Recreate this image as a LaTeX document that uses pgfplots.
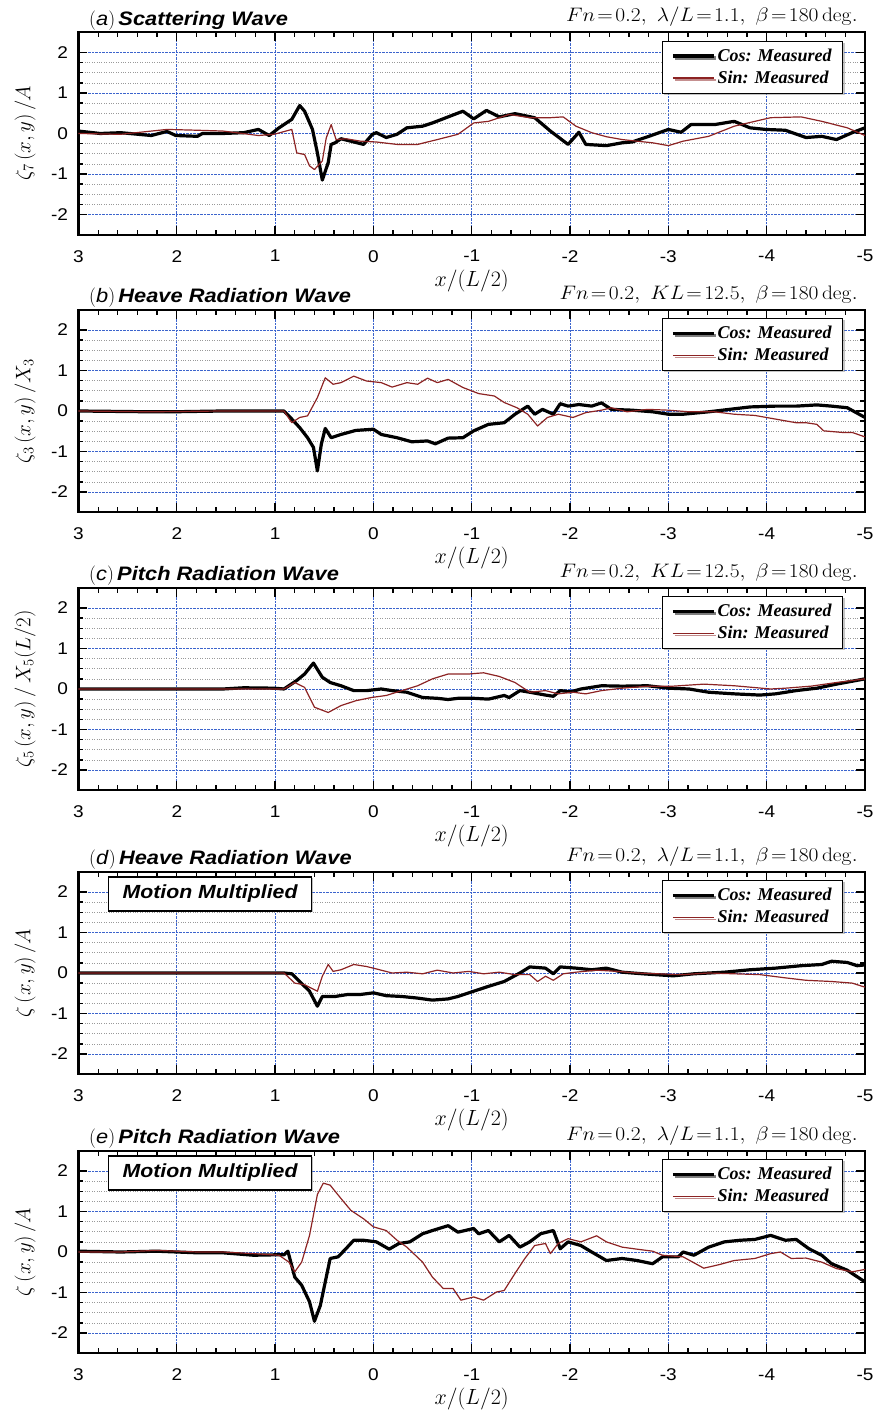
\RequirePackage{fix-cm}
\documentclass[border=0pt]{standalone}
\usepackage[no-math]{fontspec}
\setmainfont{Liberation Sans}[FakeStretch=1.12]
\newfontfamily\legfont{Liberation Serif}
\usepackage{graphicx}
\usepackage{pgfplots}
\pgfplotsset{compat=1.18}
\usetikzlibrary{shadows}
\definecolor{sinred}{RGB}{140,35,35}
\definecolor{gridblue}{RGB}{60,100,205}
\newcommand{\ttl}[2]{\fontsize{19.5}{22}\selectfont$($\textit{#1}$)$\,\textbf{\textit{#2}}}
\newcommand{\rtl}[1]{\scalebox{1.1}[1]{\fontsize{19.5}{22}\selectfont$#1$}}
\tikzset{
 mmbox/.style={draw=black, line width=1.1pt, fill=white, anchor=north west, minimum width=203pt, minimum height=34pt, inner sep=0pt, drop shadow={shadow xshift=1.5pt, shadow yshift=-1.5pt, fill=black!50}, font=\fontsize{19}{21}\selectfont\bfseries\itshape},
}
\pgfplotsset{
 panel/.style={
  scale only axis, width=786.5pt, height=202.5pt, anchor=south west, clip=false,
  xmin=-5, xmax=3, x dir=reverse, ymin=-2.5, ymax=2.5,
  xtick={-5,-4,...,3}, ytick={-2,-1,...,2},
  minor x tick num=4, minor y tick num=3,
  xmajorgrids=true, ymajorgrids=true, yminorgrids=true, xminorgrids=false,
  major grid style={densely dotted, gridblue, line width=0.7pt},
  minor grid style={dotted, black!40, line width=0.6pt},
  tick align=inside, major tick length=9pt, minor tick length=5pt,
  every tick/.style={black, line width=1.3pt},
  axis line style={black, line width=2.2pt},
  /pgf/number format/assume math mode=true,
  ticklabel style={font=\fontsize{17}{20}\selectfont},
  xticklabel style={yshift=-12pt},
  yticklabel style={xshift=-7pt},
  xlabel={$x/(L/2)$},
  xlabel style={at={(axis description cs:0.5,-0.227)}, anchor=center, font=\fontsize{22}{24}\selectfont},
  ylabel style={at={(axis description cs:-0.068,0.5)}, anchor=center, font=\fontsize{21}{24}\selectfont},
  legend style={at={(axis description cs:0.972,0.959)}, anchor=north east, draw=black, line width=0.8pt, fill=white, font=\legfont\bfseries\itshape\fontsize{18}{20}\selectfont, cells={anchor=west}, inner xsep=9pt, inner ysep=6pt, row sep=4pt, drop shadow={shadow xshift=2pt, shadow yshift=-2pt, fill=black!45}},
  legend image code/.code={\draw[#1] (0pt,0pt) -- (41pt,0pt);},
 },
 cosl/.style={draw=black, line width=3.2pt, line join=round},
 sinl/.style={draw=sinred, line width=1.2pt, line join=round},
}
\begin{document}
\begin{tikzpicture}
\useasboundingbox (0,0) rectangle (874pt,1416pt);
% ---------------- (a)
\begin{axis}[panel, at={(78.5pt,1181.25pt)}, ylabel={$\zeta_7\,(x,y)\,/A$}]
\addplot[cosl] coordinates {(3.00,0.06) (2.78,0.00) (2.57,0.02) (2.26,-0.05) (2.10,0.05) (2.01,-0.05) (1.79,-0.07) (1.74,0.00) (1.53,0.00) (1.32,0.02) (1.17,0.10) (1.06,-0.05) (0.96,0.14) (0.83,0.35) (0.75,0.69) (0.70,0.55) (0.62,0.10) (0.57,-0.48) (0.52,-1.15) (0.46,-0.72) (0.43,-0.27) (0.39,-0.23) (0.33,-0.13) (0.23,-0.19) (0.10,-0.27) (0.01,-0.02) (-0.03,0.02) (-0.13,-0.10) (-0.24,-0.02) (-0.34,0.14) (-0.50,0.18) (-0.60,0.26) (-0.76,0.41) (-0.91,0.55) (-1.02,0.36) (-1.15,0.57) (-1.28,0.41) (-1.44,0.49) (-1.64,0.39) (-1.80,0.06) (-1.98,-0.27) (-2.09,0.03) (-2.16,-0.27) (-2.37,-0.30) (-2.53,-0.23) (-2.63,-0.21) (-2.79,-0.08) (-3.00,0.10) (-3.13,0.03) (-3.23,0.22) (-3.47,0.22) (-3.67,0.30) (-3.83,0.14) (-3.99,0.10) (-4.19,0.08) (-4.40,-0.10) (-4.56,-0.07) (-4.71,-0.15) (-4.87,0.02) (-5.00,0.14)};
\addlegendentry{Cos: Measured}
\addplot[sinl] coordinates {(3.00,0.00) (2.57,-0.02) (2.10,0.10) (1.79,0.08) (1.53,0.06) (1.17,-0.05) (1.01,-0.02) (0.83,0.10) (0.78,-0.48) (0.70,-0.52) (0.65,-0.80) (0.60,-0.89) (0.52,-0.68) (0.48,-0.11) (0.43,0.22) (0.38,-0.15) (0.28,-0.13) (0.13,-0.19) (-0.03,-0.21) (-0.24,-0.27) (-0.45,-0.27) (-0.65,-0.15) (-0.86,-0.02) (-1.02,0.26) (-1.17,0.30) (-1.38,0.47) (-1.59,0.39) (-1.80,0.39) (-1.93,0.41) (-2.06,0.18) (-2.22,0.02) (-2.37,-0.08) (-2.53,-0.15) (-2.68,-0.19) (-2.84,-0.23) (-3.00,-0.30) (-3.15,-0.19) (-3.41,-0.07) (-3.67,0.18) (-3.88,0.30) (-4.04,0.39) (-4.35,0.41) (-4.56,0.30) (-4.82,0.14) (-5.00,-0.05)};
\addlegendentry{Sin: Measured}
\node[anchor=base west, inner sep=0pt] at (axis description cs:0.0134,1.035) {\ttl{a}{Scattering Wave}};
\node[anchor=base east, inner sep=0pt] at (axis description cs:0.991,1.052) {\rtl{Fn\!=\!0.2,\ \lambda/L\!=\!1.1,\ \beta\!=\!180\,\mathrm{deg.}}};
\end{axis}
% ---------------- (b)
\begin{axis}[panel, at={(78.5pt,903.75pt)}, ylabel={$\zeta_3\,(x,y)\,/X_3$}]
\addplot[cosl] coordinates {(3.00,0.00) (2.26,-0.02) (2.05,-0.02) (1.53,0.00) (1.01,0.00) (0.91,0.00) (0.83,-0.20) (0.75,-0.41) (0.67,-0.66) (0.61,-0.90) (0.57,-1.48) (0.53,-0.82) (0.49,-0.43) (0.43,-0.66) (0.33,-0.58) (0.18,-0.48) (0.00,-0.45) (-0.08,-0.58) (-0.24,-0.66) (-0.39,-0.76) (-0.55,-0.74) (-0.63,-0.81) (-0.76,-0.67) (-0.91,-0.66) (-1.02,-0.49) (-1.17,-0.33) (-1.33,-0.29) (-1.44,-0.08) (-1.57,0.12) (-1.64,-0.08) (-1.72,0.04) (-1.83,-0.08) (-1.90,0.18) (-1.98,0.12) (-2.09,0.16) (-2.22,0.12) (-2.32,0.20) (-2.42,0.04) (-2.63,0.02) (-2.84,-0.02) (-3.00,-0.08) (-3.15,-0.08) (-3.41,-0.02) (-3.62,0.04) (-3.83,0.10) (-4.09,0.12) (-4.30,0.12) (-4.51,0.15) (-4.66,0.12) (-4.82,0.08) (-5.00,-0.16)};
\addlegendentry{Cos: Measured}
\addplot[sinl] coordinates {(3.00,0.00) (2.26,-0.02) (1.53,0.00) (0.91,0.00) (0.83,-0.29) (0.75,-0.16) (0.67,-0.12) (0.57,0.33) (0.49,0.82) (0.41,0.66) (0.33,0.70) (0.20,0.86) (0.07,0.74) (-0.08,0.70) (-0.19,0.59) (-0.34,0.70) (-0.45,0.66) (-0.55,0.81) (-0.65,0.70) (-0.76,0.78) (-0.91,0.58) (-1.07,0.43) (-1.23,0.37) (-1.33,0.21) (-1.46,0.08) (-1.57,-0.08) (-1.67,-0.37) (-1.77,-0.16) (-1.88,-0.08) (-2.03,-0.16) (-2.16,-0.04) (-2.32,0.02) (-2.42,0.08) (-2.58,-0.02) (-2.79,0.04) (-3.00,0.02) (-3.21,-0.02) (-3.47,-0.02) (-3.67,-0.08) (-3.88,-0.11) (-4.09,-0.20) (-4.30,-0.29) (-4.40,-0.29) (-4.51,-0.33) (-4.58,-0.49) (-4.77,-0.53) (-4.87,-0.53) (-5.00,-0.64)};
\addlegendentry{Sin: Measured}
\node[anchor=base west, inner sep=0pt] at (axis description cs:0.0134,1.035) {\ttl{b}{Heave Radiation Wave}};
\node[anchor=base east, inner sep=0pt] at (axis description cs:0.991,1.052) {\rtl{Fn\!=\!0.2,\ KL\!=\!12.5,\ \beta\!=\!180\,\mathrm{deg.}}};
\end{axis}
% ---------------- (c)
\begin{axis}[panel, at={(78.5pt,625.75pt)}, ylabel={$\zeta_5\,(x,y)\,/\,X_5(L/2)$}]
\addplot[cosl] coordinates {(3.00,0.00) (1.53,0.00) (1.32,0.03) (1.01,0.02) (0.91,0.00) (0.86,0.08) (0.78,0.21) (0.70,0.37) (0.61,0.64) (0.52,0.29) (0.44,0.16) (0.33,0.08) (0.20,-0.04) (0.07,-0.04) (-0.08,0.00) (-0.19,-0.04) (-0.34,-0.08) (-0.50,-0.21) (-0.65,-0.23) (-0.76,-0.26) (-0.86,-0.23) (-1.02,-0.23) (-1.17,-0.25) (-1.33,-0.16) (-1.38,-0.21) (-1.49,-0.04) (-1.59,-0.08) (-1.75,-0.15) (-1.83,-0.18) (-1.90,-0.04) (-2.01,-0.07) (-2.11,0.00) (-2.32,0.08) (-2.53,0.07) (-2.79,0.08) (-3.00,0.02) (-3.21,0.00) (-3.41,-0.08) (-3.67,-0.12) (-3.93,-0.15) (-4.09,-0.12) (-4.30,-0.04) (-4.51,0.02) (-4.71,0.12) (-5.00,0.25)};
\addlegendentry{Cos: Measured}
\addplot[sinl] coordinates {(3.00,0.00) (1.01,0.00) (0.91,0.00) (0.80,0.16) (0.70,0.04) (0.60,-0.45) (0.46,-0.58) (0.33,-0.41) (0.18,-0.29) (0.02,-0.21) (-0.13,-0.16) (-0.29,-0.04) (-0.45,0.08) (-0.60,0.25) (-0.76,0.37) (-0.97,0.37) (-1.12,0.40) (-1.28,0.31) (-1.44,0.16) (-1.59,-0.08) (-1.75,-0.04) (-1.88,-0.12) (-2.03,-0.08) (-2.16,-0.12) (-2.32,-0.04) (-2.53,0.02) (-2.79,0.07) (-3.05,0.07) (-3.36,0.12) (-3.67,0.08) (-4.04,0.00) (-4.19,0.02) (-4.45,0.07) (-4.71,0.16) (-5.00,0.25)};
\addlegendentry{Sin: Measured}
\node[anchor=base west, inner sep=0pt] at (axis description cs:0.0134,1.035) {\ttl{c}{Pitch Radiation Wave}};
\node[anchor=base east, inner sep=0pt] at (axis description cs:0.991,1.052) {\rtl{Fn\!=\!0.2,\ KL\!=\!12.5,\ \beta\!=\!180\,\mathrm{deg.}}};
\end{axis}
% ---------------- (d)
\begin{axis}[panel, at={(78.5pt,341.75pt)}, ylabel={$\zeta\,(x,y)\,/A$}]
\addplot[cosl] coordinates {(3.00,0.00) (0.91,0.00) (0.83,-0.02) (0.75,-0.21) (0.65,-0.45) (0.57,-0.82) (0.52,-0.58) (0.39,-0.58) (0.26,-0.53) (0.13,-0.53) (0.00,-0.49) (-0.13,-0.56) (-0.29,-0.58) (-0.45,-0.62) (-0.60,-0.67) (-0.76,-0.64) (-0.86,-0.58) (-1.02,-0.45) (-1.17,-0.33) (-1.33,-0.21) (-1.49,0.00) (-1.59,0.15) (-1.75,0.12) (-1.83,-0.02) (-1.90,0.15) (-2.06,0.12) (-2.22,0.08) (-2.37,0.12) (-2.53,0.02) (-2.74,-0.02) (-3.05,-0.07) (-3.26,-0.02) (-3.57,0.02) (-3.83,0.08) (-4.09,0.12) (-4.35,0.18) (-4.56,0.21) (-4.66,0.29) (-4.82,0.26) (-4.92,0.18) (-5.00,0.20)};
\addlegendentry{Cos: Measured}
\addplot[sinl] coordinates {(3.00,0.00) (0.91,0.00) (0.80,-0.25) (0.70,-0.29) (0.57,-0.45) (0.52,-0.08) (0.46,0.21) (0.41,0.04) (0.33,0.08) (0.20,0.21) (0.07,0.16) (-0.03,0.10) (-0.19,0.00) (-0.34,0.02) (-0.50,-0.02) (-0.65,0.07) (-0.81,0.00) (-0.97,0.04) (-1.12,-0.02) (-1.28,0.02) (-1.44,-0.04) (-1.59,-0.04) (-1.67,-0.21) (-1.75,-0.08) (-1.83,-0.18) (-1.93,-0.02) (-2.06,0.02) (-2.27,0.07) (-2.48,0.04) (-2.68,0.00) (-2.89,-0.02) (-3.15,-0.04) (-3.41,0.00) (-3.67,-0.02) (-3.93,-0.04) (-4.19,-0.12) (-4.40,-0.18) (-4.66,-0.21) (-4.87,-0.25) (-5.00,-0.35)};
\addlegendentry{Sin: Measured}
\node[anchor=base west, inner sep=0pt] at (axis description cs:0.0134,1.035) {\ttl{d}{Heave Radiation Wave}};
\node[anchor=base east, inner sep=0pt] at (axis description cs:0.991,1.052) {\rtl{Fn\!=\!0.2,\ \lambda/L\!=\!1.1,\ \beta\!=\!180\,\mathrm{deg.}}};
\node[mmbox] at (axis description cs:0.0375,0.977) {Motion Multiplied};
\end{axis}
% ---------------- (e)
\begin{axis}[panel, at={(78.5pt,62.75pt)}, ylabel={$\zeta\,(x,y)\,/A$}]
\addplot[cosl] coordinates {(3.00,0.02) (2.57,0.00) (2.21,0.02) (1.79,-0.02) (1.53,-0.02) (1.22,-0.08) (1.01,-0.07) (0.91,-0.07) (0.87,0.02) (0.80,-0.62) (0.73,-0.82) (0.65,-1.23) (0.60,-1.71) (0.54,-1.32) (0.49,-0.74) (0.44,-0.16) (0.36,-0.12) (0.28,0.08) (0.20,0.29) (0.10,0.29) (-0.03,0.25) (-0.16,0.07) (-0.26,0.21) (-0.37,0.25) (-0.50,0.45) (-0.60,0.53) (-0.76,0.65) (-0.86,0.49) (-1.02,0.58) (-1.07,0.45) (-1.17,0.53) (-1.28,0.25) (-1.38,0.41) (-1.49,0.12) (-1.59,0.25) (-1.70,0.45) (-1.83,0.53) (-1.90,0.08) (-1.98,0.25) (-2.11,0.16) (-2.22,0.00) (-2.37,-0.21) (-2.53,-0.16) (-2.68,-0.21) (-2.84,-0.29) (-2.94,-0.12) (-3.10,-0.12) (-3.15,0.00) (-3.26,-0.08) (-3.41,0.12) (-3.57,0.25) (-3.73,0.29) (-3.88,0.31) (-4.04,0.41) (-4.19,0.29) (-4.30,0.31) (-4.43,0.08) (-4.56,-0.08) (-4.66,-0.29) (-4.82,-0.45) (-5.00,-0.74)};
\addlegendentry{Cos: Measured}
\addplot[sinl] coordinates {(3.00,0.00) (2.57,0.00) (2.21,0.04) (1.79,0.00) (1.53,0.00) (1.22,-0.04) (0.96,-0.08) (0.86,-0.25) (0.80,-0.49) (0.73,-0.25) (0.65,0.41) (0.57,1.42) (0.51,1.70) (0.44,1.65) (0.33,1.32) (0.23,1.03) (0.10,0.82) (0.00,0.62) (-0.13,0.53) (-0.24,0.29) (-0.34,0.12) (-0.50,-0.25) (-0.60,-0.62) (-0.71,-0.90) (-0.81,-0.90) (-0.89,-1.19) (-1.02,-1.11) (-1.12,-1.19) (-1.25,-0.99) (-1.33,-0.95) (-1.44,-0.53) (-1.54,-0.16) (-1.64,0.16) (-1.75,0.21) (-1.80,-0.04) (-1.88,0.21) (-1.98,0.33) (-2.11,0.25) (-2.27,0.40) (-2.37,0.25) (-2.53,0.12) (-2.68,0.07) (-2.84,0.02) (-2.94,-0.08) (-3.15,-0.12) (-3.36,-0.40) (-3.52,-0.31) (-3.67,-0.21) (-3.88,-0.16) (-4.04,-0.04) (-4.14,0.00) (-4.25,-0.16) (-4.40,-0.15) (-4.56,-0.25) (-4.71,-0.41) (-4.87,-0.49) (-5.00,-0.43)};
\addlegendentry{Sin: Measured}
\node[anchor=base west, inner sep=0pt] at (axis description cs:0.0134,1.035) {\ttl{e}{Pitch Radiation Wave}};
\node[anchor=base east, inner sep=0pt] at (axis description cs:0.991,1.052) {\rtl{Fn\!=\!0.2,\ \lambda/L\!=\!1.1,\ \beta\!=\!180\,\mathrm{deg.}}};
\node[mmbox] at (axis description cs:0.0375,0.977) {Motion Multiplied};
\end{axis}
\end{tikzpicture}
\end{document}
